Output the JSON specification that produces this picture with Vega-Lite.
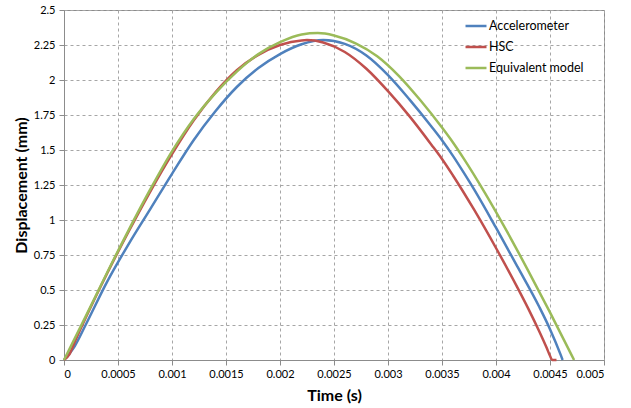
{
  "$schema": "https://vega.github.io/schema/vega-lite/v6.json",
  "width": 540,
  "height": 350,
  "autosize": "none",
  "padding": {"left": 64, "top": 10, "right": 27, "bottom": 48},
  "background": "white",
  "config": {
    "font": "Lato",
    "view": {"stroke": "#8c8c8c", "strokeWidth": 1},
    "axis": {
      "labelFont": "Lato",
      "labelFontSize": 11,
      "labelColor": "#000000",
      "titleFont": "Lato",
      "titleFontSize": 16,
      "titleFontWeight": "bold",
      "titleColor": "#000000",
      "domainColor": "#8c8c8c",
      "tickColor": "#8c8c8c",
      "gridColor": "#a6a6a6",
      "gridDash": [3, 3],
      "tickSize": 5
    }
  },
  "data": {
    "values": [
      {"series": "Accelerometer", "t": 0, "d": 0},
      {"series": "Accelerometer", "t": 0.0001, "d": 0.1},
      {"series": "Accelerometer", "t": 0.0002, "d": 0.25},
      {"series": "Accelerometer", "t": 0.0004, "d": 0.56},
      {"series": "Accelerometer", "t": 0.0006, "d": 0.83},
      {"series": "Accelerometer", "t": 0.0008, "d": 1.08},
      {"series": "Accelerometer", "t": 0.001, "d": 1.33},
      {"series": "Accelerometer", "t": 0.0012, "d": 1.57},
      {"series": "Accelerometer", "t": 0.0014, "d": 1.775},
      {"series": "Accelerometer", "t": 0.0016, "d": 1.95},
      {"series": "Accelerometer", "t": 0.0018, "d": 2.085},
      {"series": "Accelerometer", "t": 0.002, "d": 2.185},
      {"series": "Accelerometer", "t": 0.0022, "d": 2.255},
      {"series": "Accelerometer", "t": 0.0024, "d": 2.285},
      {"series": "Accelerometer", "t": 0.0026, "d": 2.258},
      {"series": "Accelerometer", "t": 0.0028, "d": 2.175},
      {"series": "Accelerometer", "t": 0.003, "d": 2.035},
      {"series": "Accelerometer", "t": 0.0032, "d": 1.86},
      {"series": "Accelerometer", "t": 0.0034, "d": 1.67},
      {"series": "Accelerometer", "t": 0.0035, "d": 1.57},
      {"series": "Accelerometer", "t": 0.0036, "d": 1.46},
      {"series": "Accelerometer", "t": 0.0037, "d": 1.34},
      {"series": "Accelerometer", "t": 0.0038, "d": 1.215},
      {"series": "Accelerometer", "t": 0.004, "d": 0.945},
      {"series": "Accelerometer", "t": 0.0042, "d": 0.665},
      {"series": "Accelerometer", "t": 0.0044, "d": 0.38},
      {"series": "Accelerometer", "t": 0.0045, "d": 0.22},
      {"series": "Accelerometer", "t": 0.0046, "d": 0.035},
      {"series": "Accelerometer", "t": 0.004617, "d": 0},
      {"series": "HSC", "t": 0, "d": 0},
      {"series": "HSC", "t": 0.00005, "d": 0.04},
      {"series": "HSC", "t": 0.0001, "d": 0.13},
      {"series": "HSC", "t": 0.0002, "d": 0.3},
      {"series": "HSC", "t": 0.0004, "d": 0.62},
      {"series": "HSC", "t": 0.0006, "d": 0.92},
      {"series": "HSC", "t": 0.0008, "d": 1.205},
      {"series": "HSC", "t": 0.001, "d": 1.47},
      {"series": "HSC", "t": 0.0012, "d": 1.71},
      {"series": "HSC", "t": 0.0014, "d": 1.91},
      {"series": "HSC", "t": 0.0016, "d": 2.07},
      {"series": "HSC", "t": 0.0018, "d": 2.18},
      {"series": "HSC", "t": 0.002, "d": 2.25},
      {"series": "HSC", "t": 0.0022, "d": 2.283},
      {"series": "HSC", "t": 0.00225, "d": 2.285},
      {"series": "HSC", "t": 0.0024, "d": 2.268},
      {"series": "HSC", "t": 0.0026, "d": 2.2},
      {"series": "HSC", "t": 0.0028, "d": 2.08},
      {"series": "HSC", "t": 0.003, "d": 1.92},
      {"series": "HSC", "t": 0.0032, "d": 1.74},
      {"series": "HSC", "t": 0.0034, "d": 1.54},
      {"series": "HSC", "t": 0.0035, "d": 1.436},
      {"series": "HSC", "t": 0.0036, "d": 1.32},
      {"series": "HSC", "t": 0.0038, "d": 1.07},
      {"series": "HSC", "t": 0.004, "d": 0.8},
      {"series": "HSC", "t": 0.0042, "d": 0.515},
      {"series": "HSC", "t": 0.0043, "d": 0.365},
      {"series": "HSC", "t": 0.0044, "d": 0.205},
      {"series": "HSC", "t": 0.00447, "d": 0.085},
      {"series": "HSC", "t": 0.0045, "d": 0.03},
      {"series": "HSC", "t": 0.00452, "d": 0},
      {"series": "HSC", "t": 0.00456, "d": 0},
      {"series": "Equivalent model", "t": 0, "d": 0},
      {"series": "Equivalent model", "t": 0.0002, "d": 0.31},
      {"series": "Equivalent model", "t": 0.0004, "d": 0.625},
      {"series": "Equivalent model", "t": 0.0006, "d": 0.93},
      {"series": "Equivalent model", "t": 0.0008, "d": 1.22},
      {"series": "Equivalent model", "t": 0.001, "d": 1.49},
      {"series": "Equivalent model", "t": 0.0012, "d": 1.72},
      {"series": "Equivalent model", "t": 0.0014, "d": 1.905},
      {"series": "Equivalent model", "t": 0.0016, "d": 2.06},
      {"series": "Equivalent model", "t": 0.0018, "d": 2.185},
      {"series": "Equivalent model", "t": 0.002, "d": 2.27},
      {"series": "Equivalent model", "t": 0.0022, "d": 2.325},
      {"series": "Equivalent model", "t": 0.00235, "d": 2.335},
      {"series": "Equivalent model", "t": 0.0025, "d": 2.318},
      {"series": "Equivalent model", "t": 0.0027, "d": 2.262},
      {"series": "Equivalent model", "t": 0.0029, "d": 2.17},
      {"series": "Equivalent model", "t": 0.0031, "d": 2.03},
      {"series": "Equivalent model", "t": 0.0033, "d": 1.855},
      {"series": "Equivalent model", "t": 0.0035, "d": 1.66},
      {"series": "Equivalent model", "t": 0.0036, "d": 1.555},
      {"series": "Equivalent model", "t": 0.0037, "d": 1.44},
      {"series": "Equivalent model", "t": 0.0039, "d": 1.19},
      {"series": "Equivalent model", "t": 0.0041, "d": 0.92},
      {"series": "Equivalent model", "t": 0.0043, "d": 0.635},
      {"series": "Equivalent model", "t": 0.0045, "d": 0.34},
      {"series": "Equivalent model", "t": 0.0047, "d": 0.035},
      {"series": "Equivalent model", "t": 0.004723, "d": 0}
    ]
  },
  "mark": {"type": "line", "interpolate": "monotone", "strokeWidth": 2.5},
  "encoding": {
    "x": {
      "field": "t",
      "type": "quantitative",
      "scale": {"domain": [0, 0.005], "nice": false},
      "axis": {
        "title": "Time (s)",
        "values": [0, 0.0005, 0.001, 0.0015, 0.002, 0.0025, 0.003, 0.0035, 0.004, 0.0045, 0.005],
        "format": ".4~g",
        "labelPadding": 3,
        "titlePadding": 8,
        "grid": true
      }
    },
    "y": {
      "field": "d",
      "type": "quantitative",
      "scale": {"domain": [0, 2.5], "nice": false},
      "axis": {
        "title": "Displacement (mm)",
        "values": [0, 0.25, 0.5, 0.75, 1, 1.25, 1.5, 1.75, 2, 2.25, 2.5],
        "format": ".4~g",
        "labelPadding": 4,
        "titlePadding": 4,
        "grid": true
      }
    },
    "color": {
      "field": "series",
      "type": "nominal",
      "scale": {
        "domain": ["Accelerometer", "HSC", "Equivalent model"],
        "range": ["#4F81BD", "#C0504D", "#9BBB59"]
      },
      "legend": {
        "title": null,
        "orient": "none",
        "legendX": 400,
        "legendY": 4,
        "symbolType": "stroke",
        "symbolSize": 440,
        "symbolStrokeWidth": 2.5,
        "labelFontSize": 12.5,
        "labelColor": "#000000",
        "labelOffset": 1,
        "rowPadding": 2
      }
    }
  }
}
